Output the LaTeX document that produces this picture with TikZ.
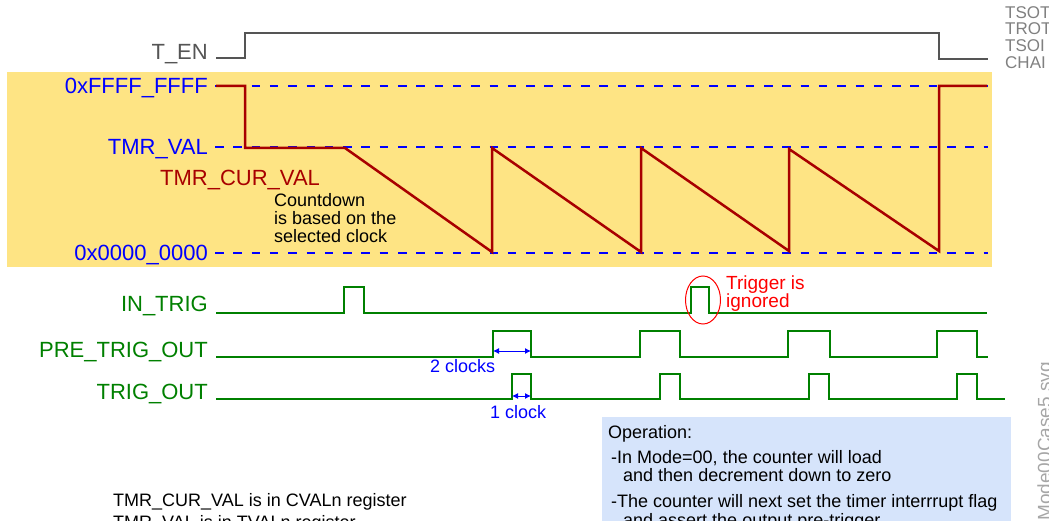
\documentclass[tikz,border=0pt]{standalone}
\usepackage{fontspec}
\setmainfont{Liberation Sans}
\usetikzlibrary{arrows.meta}

\definecolor{bandyellow}{RGB}{254,228,132}
\definecolor{boxblue}{RGB}{214,228,251}
\definecolor{cntred}{RGB}{168,0,0}
\definecolor{sigreen}{RGB}{0,128,0}
\definecolor{tengray}{RGB}{85,85,85}

\begin{document}
\begin{tikzpicture}[x=1pt,y=-1pt,
    lbl/.style={inner sep=0pt,anchor=base east,font=\fontsize{22}{26}\selectfont},
    note/.style={inner sep=0pt,anchor=base west,font=\fontsize{18}{20}\selectfont},
    level/.style={blue,line width=2.5pt,dash pattern=on 8.5pt off 9.8pt},
    sig/.style={sigreen,line width=2.4pt},
    cnt/.style={cntred,line width=2.5pt},
    span/.style={blue,line width=1pt,{Latex[length=6pt,width=6pt]}-{Latex[length=6pt,width=6pt]}}]
    \useasboundingbox (0,0) rectangle (1049,521);
    \clip (0,0) rectangle (1049,521);

    % T_EN
    \node[lbl,tengray] (ten) at (208,60) {T\_EN};
    \draw[tengray,line width=2pt] (216,58) -- (245,58) -- (245,33) -- (939,33) -- (939,59) -- (988,59);
    \foreach \n/\t/\y in {tsot/TSOT/19,trot/TROT/35,tsoi/TSOI/52,chai/CHAI/69}
      \node[note,gray,font=\fontsize{17}{18}\selectfont] (\n) at (1005,\y) {\t};

    % counter levels
    \fill[bandyellow] (7,72) rectangle (992,267);
    \foreach \n/\t/\y in {max/0xFFFF\_FFFF/86,tval/TMR\_VAL/147,zero/0x0000\_0000/253} {
      \node[lbl,blue] (\n) at (208,\y+8) {\t};
      \draw[level] (215,\y) -- (988,\y);
    }
    \draw[cnt] (216,86) -- (245,86) -- (245,148) -- (345,148) -- (492,252) -- (492,148) -- (641,252) -- (641,148)
      -- (789,251) -- (789,149) -- (939,251) -- (939,86) -- (987,86);
    \node[lbl,cntred,anchor=base west] (cur) at (160,186) {TMR\_CUR\_VAL};
    \foreach \t/\y in {Countdown/207,is based on the/225,selected clock/243}
      \node[note] (cd\y) at (274,\y) {\t};

    % IN_TRIG
    \node[lbl,sigreen] (intrig) at (208,311) {IN\_TRIG};
    \draw[sig] (216,313) \foreach \a/\b in {344/364,691/709} { -- (\a,313) -- (\a,287) -- (\b,287) -- (\b,313) } -- (987,313);
    \draw[red,line width=1pt] (703,300) ellipse [x radius=17.5pt,y radius=24pt];
    \node[note,red,font=\fontsize{19}{20}\selectfont] (ign1) at (726,290) {Trigger is};
    \node[note,red,font=\fontsize{19}{20}\selectfont] (ign2) at (726,307) {ignored};

    % PRE_TRIG_OUT
    \node[lbl,sigreen] (pre) at (208,357) {PRE\_TRIG\_OUT};
    \draw[sig] (216,357) \foreach \a/\b in {493/531,640/680,788/830,937/977} { -- (\a,357) -- (\a,331) -- (\b,331) -- (\b,357) } -- (988,357);
    \coordinate (two1) at (493,351);
    \coordinate (two2) at (531,351);
    \draw[span] (two1) -- (two2);
    \node[note,blue] (twoclk) at (430,372) {2 clocks};

    % TRIG_OUT
    \node[lbl,sigreen] (trig) at (208,399) {TRIG\_OUT};
    \draw[sig] (216,399) \foreach \a/\b in {512/531,660/680,809/829,957/977} { -- (\a,399) -- (\a,374) -- (\b,374) -- (\b,399) } -- (1005,399);
    \coordinate (one1) at (512,396);
    \coordinate (one2) at (531,396);
    \draw[span] (one1) -- (one2);
    \node[note,blue] (oneclk) at (490,418) {1 clock};

    % operation notes
    \fill[boxblue] (602,417) rectangle (1011,540);
    \node[note] (op) at (608,438) {Operation:};
    \node[note] (op1) at (611,463) {-In Mode=00, the counter will load};
    \node[note] (op2) at (623,481) {and then decrement down to zero};
    \node[note] (op3) at (611,507) {-The counter will next set the timer interrrupt flag};
    \node[note] (op4) at (623,526) {and assert the output pre-trigger};

    % registers
    \node[note] (reg1) at (113,506) {TMR\_CUR\_VAL is in CVALn register};
    \node[note] (reg2) at (113,528) {TMR\_VAL is in TVALn register};

    % file name
    \node[inner sep=0pt,anchor=base east,rotate=90,gray!70,font=\fontsize{19}{22}\selectfont] (fname) at (1051,362) {Mode00Case5.svg};
\end{tikzpicture}
\end{document}
